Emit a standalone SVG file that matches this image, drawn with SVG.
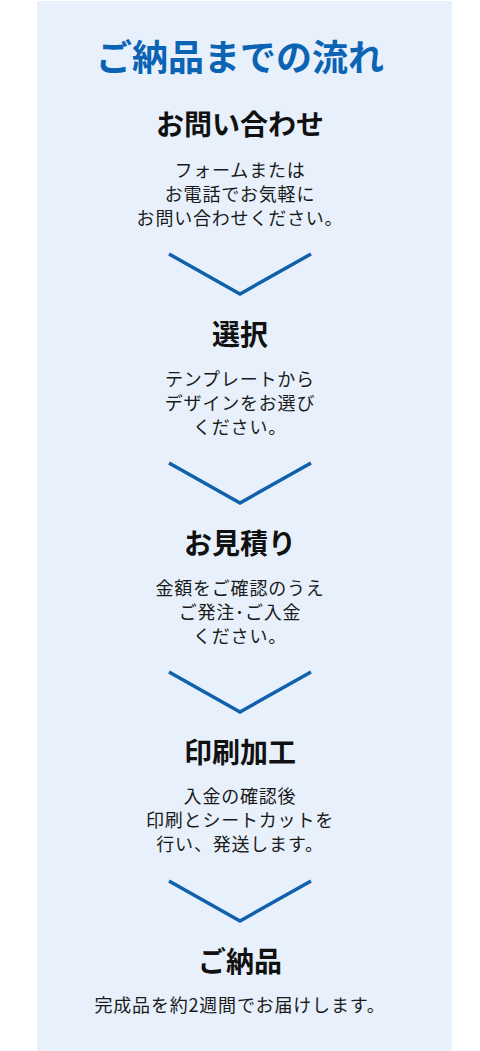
<svg xmlns="http://www.w3.org/2000/svg" width="480" height="1051" viewBox="0 0 480 1051">
  <style>
    .title { font-family: "Noto Sans CJK JP", "Noto Sans", sans-serif; font-weight: 700; font-size: 36px; fill: #0b63b4; text-anchor: middle; }
    .head { font-family: "Noto Sans CJK JP", "Noto Sans", sans-serif; font-weight: 700; font-size: 28px; fill: #111111; text-anchor: middle; }
    .body { font-family: "Noto Sans CJK JP", "Noto Sans", sans-serif; font-weight: 400; font-size: 18px; letter-spacing: 0.8px; fill: #1a1a1a; text-anchor: middle; }
    .chev { fill: none; stroke: #1160ab; stroke-width: 3.5; stroke-linejoin: miter; }
  </style>
  <rect x="0" y="0" width="480" height="1051" fill="#ffffff"/>
  <rect x="37" y="1" width="415" height="1050" fill="#e8f1fb"/>
  <text class="title" x="240" y="71">ご納品までの流れ</text>

  <g id="step1">
    <text class="head" x="240" y="135">お問い合わせ</text>
    <text class="body" x="240" y="177">フォームまたは</text>
    <text class="body" x="240" y="201">お電話でお気軽に</text>
    <text class="body" x="240" y="225">お問い合わせください。</text>
  </g>
  <g id="step2">
    <text class="head" x="240" y="345">選択</text>
    <text class="body" x="240" y="386">テンプレートから</text>
    <text class="body" x="240" y="410">デザインをお選び</text>
    <text class="body" x="240" y="434">ください。</text>
  </g>
  <g id="step3">
    <text class="head" x="240" y="554">お見積り</text>
    <text class="body" x="240" y="595">金額をご確認のうえ</text>
    <text class="body" x="240" y="619">ご発注･ご入金</text>
    <text class="body" x="240" y="643">ください。</text>
  </g>
  <g id="step4">
    <text class="head" x="240" y="763">印刷加工</text>
    <text class="body" x="240" y="803">入金の確認後</text>
    <text class="body" x="240" y="827">印刷とシートカットを</text>
    <text class="body" x="240" y="851">行い、発送します。</text>
  </g>
  <g id="step5">
    <text class="head" x="240" y="972">ご納品</text>
    <text class="body" x="240" y="1012">完成品を約2週間でお届けします。</text>
  </g>

  <g id="connectors">
    <polyline class="chev" points="169,254 240,294 311,254"/>
    <polyline class="chev" points="169,463 240,503 311,463"/>
    <polyline class="chev" points="169,672 240,712 311,672"/>
    <polyline class="chev" points="169,881 240,921 311,881"/>
  </g>
</svg>
